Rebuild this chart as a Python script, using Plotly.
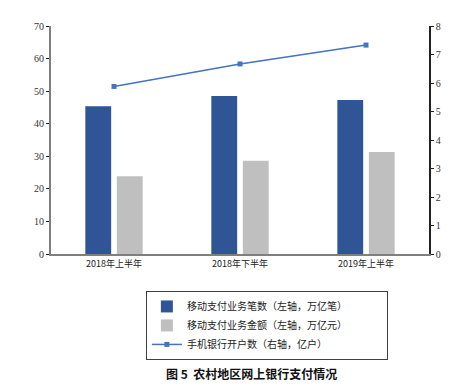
import plotly.graph_objects as go

categories = ["2018年上半年", "2018年下半年", "2019年上半年"]
txn_count = [45.4, 48.5, 47.3]      # 移动支付业务笔数（左轴，万亿笔）
txn_amount = [23.9, 28.6, 31.3]     # 移动支付业务金额（左轴，万亿元）
accounts = [5.88, 6.67, 7.33]       # 手机银行开户数（右轴，亿户）
left_ticks = [0, 10, 20, 30, 40, 50, 60, 70]
right_ticks = [0, 1, 2, 3, 4, 5, 6, 7, 8]

serif = "Liberation Serif, Times New Roman, serif"
cjk = "Noto Sans CJK SC, sans-serif"
pad = "\u3000" * 4

fig = go.Figure()
fig.add_trace(go.Bar(x=categories, y=txn_count, name="移动支付业务笔数（左轴，万亿笔）" + pad,
                     marker=dict(color="#2F5597", line=dict(width=0))))
fig.add_trace(go.Bar(x=categories, y=txn_amount, name="移动支付业务金额（左轴，万亿元）",
                     marker=dict(color="#BFBFBF", line=dict(width=0))))
fig.add_trace(go.Scatter(x=categories, y=accounts, name="手机银行开户数（右轴，亿户）",
                         yaxis="y2", mode="lines+markers",
                         line=dict(color="#4472C4", width=1.5),
                         marker=dict(symbol="square", size=5, color="#4472C4")))

fig.update_layout(
    width=444, height=380,
    margin=dict(l=43, r=23, t=18, b=134),
    paper_bgcolor="white", plot_bgcolor="white",
    barmode="group", bargap=0.5, bargroupgap=0.18,
    showlegend=True,
    legend=dict(x=0.251, y=-0.162, xanchor="left", yanchor="top",
                bordercolor="#404040", borderwidth=1,
                font=dict(family=cjk, size=10, color="#222"),
                tracegroupgap=0, itemwidth=30),
    xaxis=dict(showline=True, linecolor="#7f7f7f", linewidth=2,
               ticks="", showgrid=False,
               tickfont=dict(family=cjk, size=9, color="#222")),
    yaxis=dict(range=[0, 70], tickvals=left_ticks, showgrid=False,
               showline=True, linecolor="#7f7f7f", linewidth=2,
               ticks="outside", ticklen=3, tickcolor="#222",
               tickfont=dict(family=serif, size=10, color="#333")),
    yaxis2=dict(range=[0, 8], tickvals=right_ticks, overlaying="y", side="right",
                showgrid=False, showline=True, linecolor="#222", linewidth=1.5,
                ticks="outside", ticklen=3, tickcolor="#222",
                tickfont=dict(family=serif, size=10, color="#333")),
    annotations=[dict(text="<b>图 5  农村地区网上银行支付情况</b>", xref="paper", yref="paper",
                      x=0.53, y=-0.522, xanchor="center", yanchor="middle", showarrow=False,
                      font=dict(family=cjk, size=12, color="#111"))],
)

fig.write_html("out.html")
